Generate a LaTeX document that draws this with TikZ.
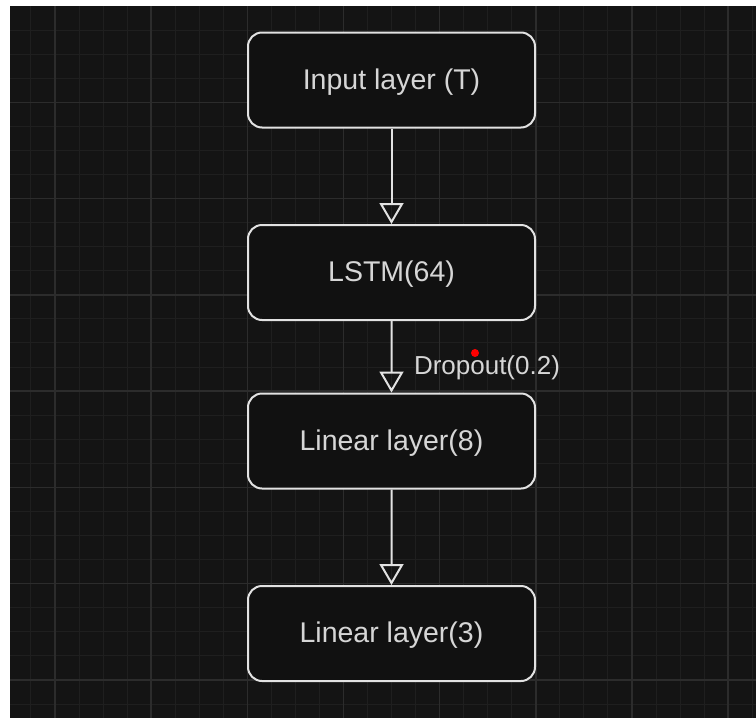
\documentclass[tikz,border=0pt]{standalone}
\usepackage{xcolor}
\usepackage{fontspec}
\setmainfont{Liberation Sans}
\usepackage{tikz}
\usetikzlibrary{trees,arrows.meta}
\definecolor{canvasbg}{HTML}{141414}
\definecolor{minorgrid}{HTML}{1F1F1F}
\definecolor{majorgrid}{HTML}{2C2C2C}
\definecolor{boxfill}{HTML}{111111}
\definecolor{boxline}{HTML}{E2E2E2}
\definecolor{labeltext}{HTML}{D6D6D6}
\tikzstyle{layer}=[draw=boxline,line width=2pt,fill=boxfill,rounded corners=14pt,
  minimum width=287pt,minimum height=95pt,text=labeltext,
  text height=20pt,text depth=2pt,
  font=\fontsize{28.5}{34}\selectfont]
\tikzstyle{droplabel}=[anchor=west,inner sep=0pt,xshift=21.5pt,pos=0.65,text=labeltext,
  font=\fontsize{26}{30}\selectfont]
\tikzstyle{reddot}=[circle,fill=red,inner sep=0pt,minimum size=8pt]
\tikzstyle{minorline}=[draw=minorgrid,line width=1pt]
\tikzstyle{majorline}=[draw=majorgrid,line width=1.4pt]
\begin{document}
\begin{tikzpicture}[x=1pt,y=1pt,
            grow=down,
            level 1/.style={level distance=192.5pt},
            level 2/.style={level distance=168.5pt},
            level 3/.style={level distance=192.5pt},
            edge from parent/.style={draw=boxline,line width=2pt,
              -{Triangle[open,length=21pt 0,width=24pt 0]}},
            edge from parent path={(\tikzparentnode.south) -- (\tikzchildnode.north)}
        ]
            \useasboundingbox (0,0) rectangle (756,-718);
            \fill[white] (0,0) rectangle (756,-718);
            \fill[canvasbg] (10,-6) rectangle (756,-718);
            % grid
            \foreach \k in {-1,...,29} {
                \pgfmathsetmacro\gx{55+24.04*\k}
                \draw[minorline] (\gx,-6) -- (\gx,-718);
            }
            \foreach \k in {1,...,29} {
                \pgfmathsetmacro\gy{-6-24.07*\k}
                \draw[minorline] (10,\gy) -- (756,\gy);
            }
            \foreach \k in {0,...,7} {
                \pgfmathsetmacro\gx{55+96.16*\k}
                \draw[majorline] (\gx,-6) -- (\gx,-718);
            }
            \foreach \k in {1,...,7} {
                \pgfmathsetmacro\gy{-6-96.28*\k}
                \draw[majorline] (10,\gy) -- (756,\gy);
            }
            % layers
            \node [layer] (input) at (391.5,-80) {Input layer (T)}
                child { node [layer] (lstm) {LSTM(64)}
                    child { node [layer] (lin8) {Linear layer(8)}
                        child { node [layer] (lin3) {Linear layer(3)} }
                        edge from parent node [droplabel] (drop) {Dropout(0.2)}
                    }
                };
            \node [reddot] (handle) at (475,-353) {};
        \end{tikzpicture}
\end{document}
